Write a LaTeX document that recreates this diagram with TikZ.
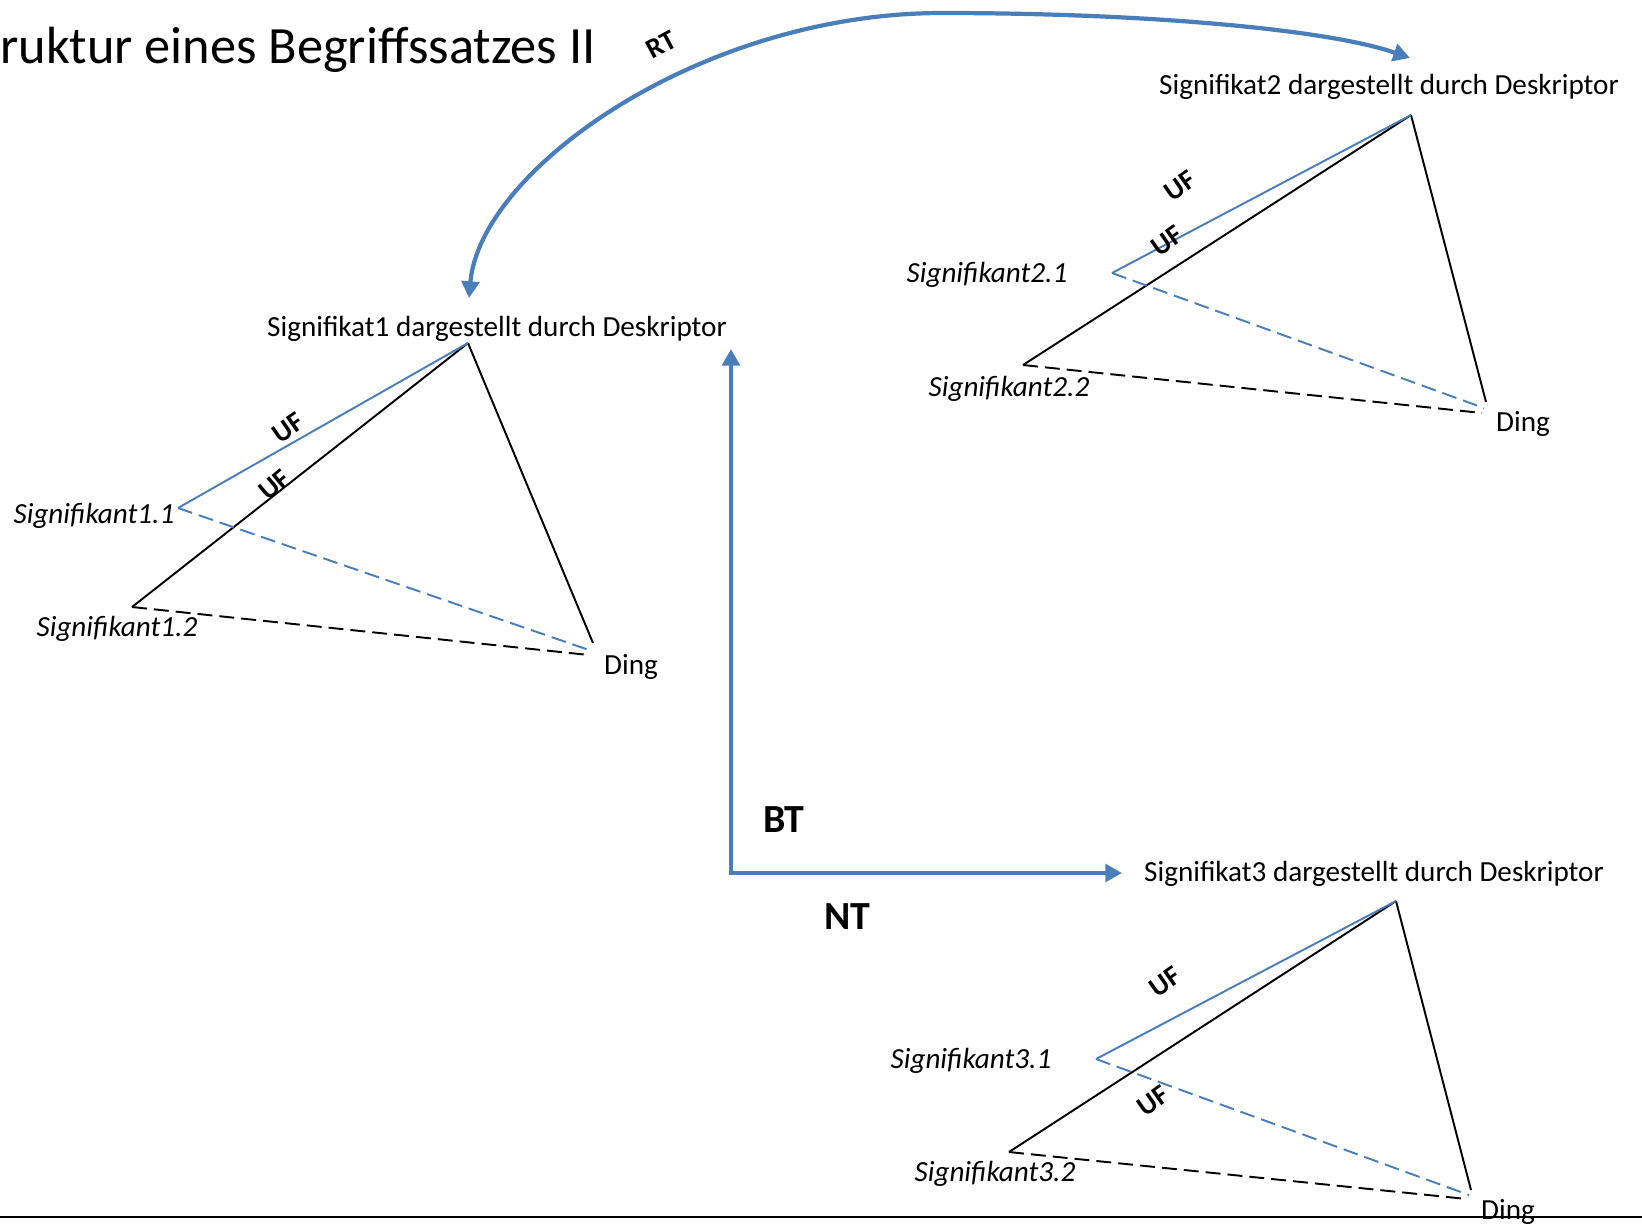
\documentclass[tikz,border=0pt]{standalone}
\usepackage{fontspec}
\setmainfont{Carlito}
\usetikzlibrary{arrows.meta}
\definecolor{linkblue}{RGB}{74,126,187}

\begin{document}
\begin{tikzpicture}[x=0.02cm, y=-0.02cm,
  txt/.style={inner sep=0pt, font=\fontsize{16.6}{20}\selectfont},
  sgnt/.style={inner sep=0pt, font=\fontsize{16.6}{20}\selectfont\itshape},
  uf/.style={inner sep=0pt, rotate=35, font=\fontsize{16}{19}\selectfont\bfseries},
  rel/.style={inner sep=0pt, font=\fontsize{22.7}{27}\selectfont\bfseries},
  blk/.style={line width=1.1pt},
  blu/.style={line width=1.1pt, linkblue},
  broken/.style={dash pattern=on 8.5pt off 4pt},
  bigarrow/.style={linkblue, line width=2.4pt,
    {Triangle[length=9.5pt,width=10pt]}-{Triangle[length=9.5pt,width=10pt]}}]

  \useasboundingbox (0,0) rectangle (1642,1225);

  \node [inner sep=0pt, anchor=base west, font=\fontsize{29.8}{35}\selectfont] (title) at (0,63) {ruktur eines Begriffssatzes II};
  \draw [line width=1.6pt] (0,1217) -- (1642,1217);

  % Begriff 1
  \node [txt] (sig1) at (497,329) {Signifikat1 dargestellt durch Deskriptor};
  \coordinate (a1) at (468,343);
  \coordinate (s11) at (178,508);
  \coordinate (s12) at (132,607);
  \coordinate (d1) at (593,643);
  \coordinate (d1b) at (589,650);
  \coordinate (d1c) at (589,655);
  \node [sgnt] (l11) at (94,516) {Signifikant1.1};
  \node [sgnt] (l12) at (117,629) {Signifikant1.2};
  \node [txt] (ding1) at (631,667) {Ding};
  \draw [blk] (a1) -- (s12);
  \draw [blk] (a1) -- (d1);
  \draw [blu] (a1) -- (s11);
  \draw [blu, broken] (s11) -- (d1b);
  \draw [blk, broken] (s12) -- (d1c);
  \node [uf] (uf11) at (288,428) {UF};
  \node [uf, rotate=5] (uf12) at (275,485) {UF};

  % Begriff 2
  \node [txt] (sig2) at (1389,87) {Signifikat2 dargestellt durch Deskriptor};
  \coordinate (a2) at (1411,115);
  \coordinate (s21) at (1112,273);
  \coordinate (s22) at (1023,365);
  \coordinate (d2) at (1486,402);
  \coordinate (d2b) at (1484,408);
  \coordinate (d2c) at (1482,413);
  \node [sgnt] (l21) at (987,275) {Signifikant2.1};
  \node [sgnt] (l22) at (1009,389) {Signifikant2.2};
  \node [txt] (ding2) at (1523,424) {Ding};
  \draw [blk] (a2) -- (s22);
  \draw [blk] (a2) -- (d2);
  \draw [blu] (a2) -- (s21);
  \draw [blu, broken] (s21) -- (d2b);
  \draw [blk, broken] (s22) -- (d2c);
  \node [uf] (uf21) at (1180,186) {UF};
  \node [uf] (uf22) at (1167,241) {UF};

  % Begriff 3
  \node [txt] (sig3) at (1374,874) {Signifikat3 dargestellt durch Deskriptor};
  \coordinate (a3) at (1396,901);
  \coordinate (s31) at (1096,1059);
  \coordinate (s32) at (1009,1152);
  \coordinate (d3) at (1471,1190);
  \coordinate (d3b) at (1469,1195);
  \coordinate (d3c) at (1467,1199);
  \node [sgnt] (l31) at (971,1061) {Signifikant3.1};
  \node [sgnt] (l32) at (995,1174) {Signifikant3.2};
  \node [txt] (ding3) at (1508,1212) {Ding};
  \draw [blk] (a3) -- (s32);
  \draw [blk] (a3) -- (d3);
  \draw [blu] (a3) -- (s31);
  \draw [blu, broken] (s31) -- (d3b);
  \draw [blk, broken] (s32) -- (d3c);
  \node [uf] (uf31) at (1165,982) {UF};
  \node [uf] (uf32) at (1153,1101) {UF};

  % Relationen
  \coordinate (rt1) at (469,298);
  \coordinate (rt2) at (1410,58);
  \coordinate (top) at (942,13);
  \draw [bigarrow] (rt1) .. controls (480,170) and (700,13) .. (top)
    .. controls (1150,13) and (1330,30) .. (rt2);
  \node [inner sep=0pt, rotate=28, font=\fontsize{16}{19}\selectfont\bfseries] (rt) at (661,45) {RT};

  \coordinate (bt) at (731,349);
  \coordinate (knick) at (731,873);
  \coordinate (nt) at (1122,873);
  \draw [bigarrow] (bt) -- (knick) -- (nt);
  \node [rel] (btl) at (784,820) {BT};
  \node [rel] (ntl) at (847,917) {NT};

\end{tikzpicture}
\end{document}
